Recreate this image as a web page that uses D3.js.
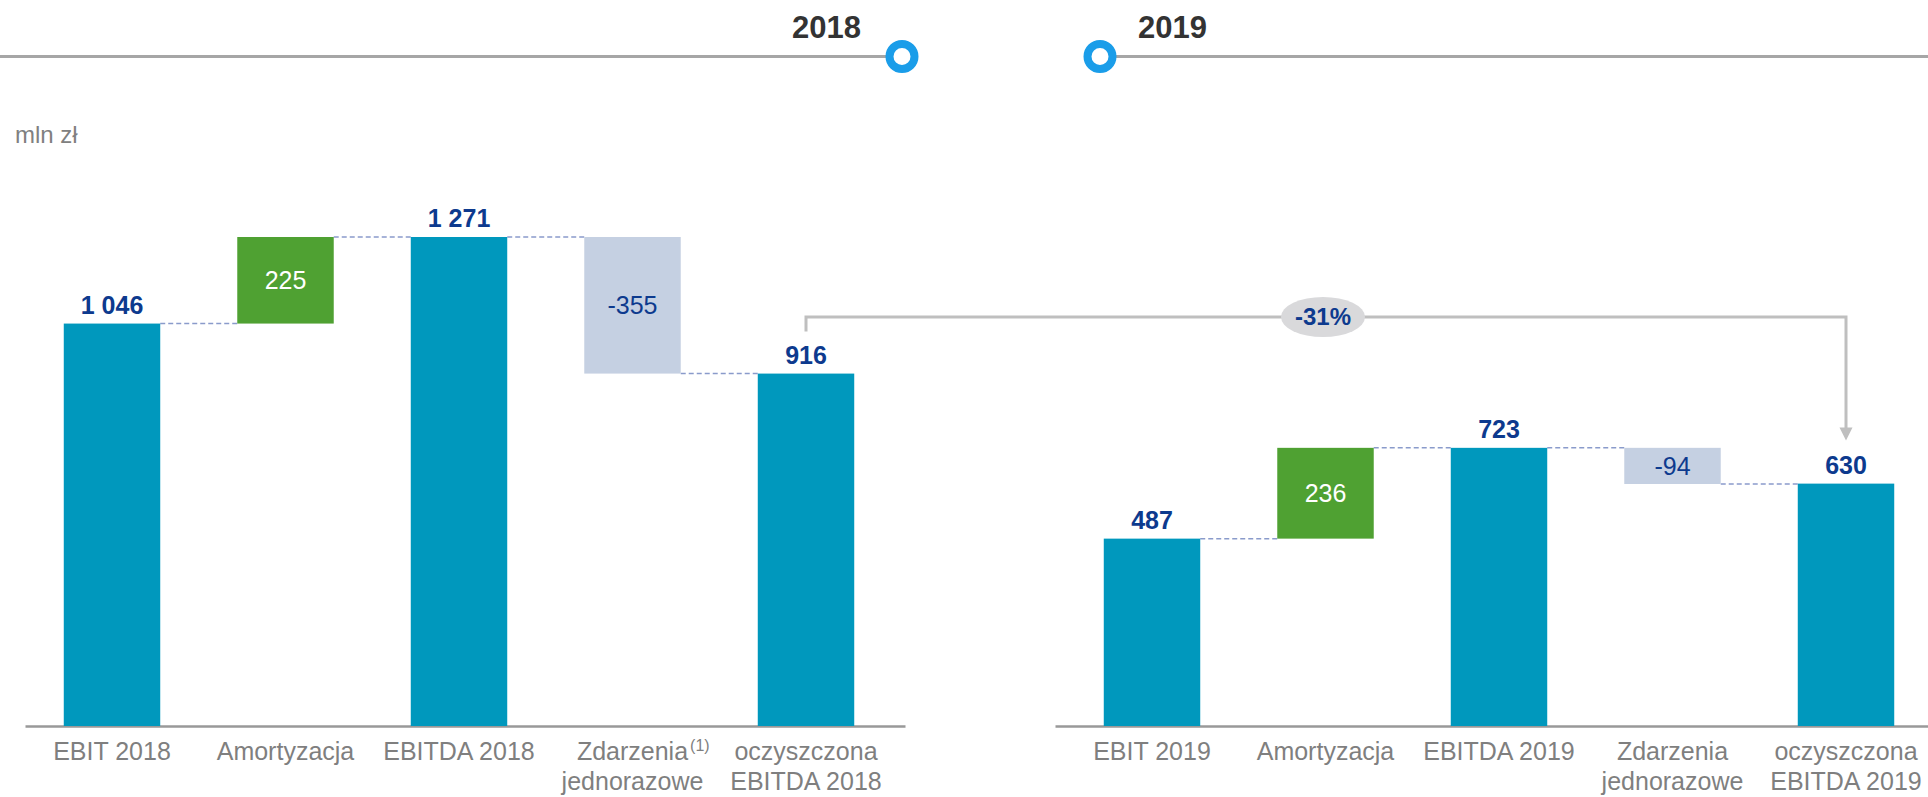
<!DOCTYPE html>
<html>
<head>
<meta charset="utf-8">
<script src="https://cdn.jsdelivr.net/npm/d3@7"></script>
<style>
  body { margin: 0; background: #ffffff; }
  svg { display: block; font-family: Arial, "Liberation Sans", sans-serif; }
</style>
</head>
<body>
<script>
'use strict';

// chart data (mln zł)
let years = ["2018", "2019"];
let steps = ["total", "delta", "total", "delta", "total"];
let values2018 = [1046, 225, 1271, -355, 916];
let values2019 = [487, 236, 723, -94, 630];
let labels2018 = [["EBIT 2018"], ["Amortyzacja"], ["EBITDA 2018"], ["Zdarzenia", "jednorazowe"], ["oczyszczona", "EBITDA 2018"]];
let labels2019 = [["EBIT 2019"], ["Amortyzacja"], ["EBITDA 2019"], ["Zdarzenia", "jednorazowe"], ["oczyszczona", "EBITDA 2019"]];
let footnotes2018 = ["", "", "", "(1)", ""];
let footnotes2019 = ["", "", "", "", ""];
let changeLabel = "-31%";
let unitLabel = "mln zł";

(function() {

  let width = 1928;
  let height = 797;
  let baseY = 726;
  let stepX = 173.5;

  let colors = {
    total: "#0098bd",
    up: "#4fa132",
    down: "#c5d0e2",
    value: "#0d3a8e",
    category: "#7f7f7f",
    timeline: "#a6a6a6",
    dot: "#1a9de9",
    bracket: "#bfbfbf",
    dash: "#8a9bcb"
  };

  // polish style numbers: "1 046", "-355"
  let fmt = d3.formatLocale({ decimal: ",", thousands: " ", grouping: [3], currency: ["", ""], minus: "-" }).format(",d");

  let svg = d3.select("body").append("svg")
    .attr("width", width)
    .attr("height", height);

  // one shared value scale for both panels
  let yScale = d3.scaleLinear()
    .domain([0, d3.max(values2018.concat(values2019))])
    .range([baseY, 237]);

  window.onload = function() {
    drawTimeline();

    svg.append("text")
      .attr("x", 15)
      .attr("y", 143)
      .style("font-size", "24px")
      .style("fill", "#808080")
      .text(unitLabel);

    let p1 = drawWaterfall(values2018, labels2018, footnotes2018, 112, [25, 905]);
    let p2 = drawWaterfall(values2019, labels2019, footnotes2019, 1152, [1055, 1940]);
    drawBracket(p1, p2);
  };

  // grey timeline with the two year markers
  function drawTimeline() {
    let lineY = 56.5;
    let dotX = d3.scalePoint().domain(years).range([902, 1100]);

    svg.append("line")
      .attr("x1", 0).attr("x2", dotX(years[0]))
      .attr("y1", lineY).attr("y2", lineY)
      .attr("stroke", colors.timeline)
      .attr("stroke-width", 3);

    svg.append("line")
      .attr("x1", dotX(years[1])).attr("x2", width)
      .attr("y1", lineY).attr("y2", lineY)
      .attr("stroke", colors.timeline)
      .attr("stroke-width", 3);

    svg.selectAll(".yearDot")
      .data(years)
      .enter()
      .append("circle")
      .attr("class", "yearDot")
      .attr("cx", (d) => dotX(d))
      .attr("cy", lineY)
      .attr("r", 12.5)
      .attr("fill", "#ffffff")
      .attr("stroke", colors.dot)
      .attr("stroke-width", 8);

    svg.selectAll(".yearText")
      .data(years)
      .enter()
      .append("text")
      .attr("class", "yearText")
      .attr("x", (d, i) => i == 0 ? dotX(d) - 41 : dotX(d) + 38)
      .attr("y", 38)
      .attr("text-anchor", (d, i) => i == 0 ? "end" : "start")
      .style("font-size", "31px")
      .style("font-weight", "bold")
      .style("fill", "#333333")
      .text((d) => d);
  }

  // one waterfall panel, returns scales for the bracket
  function drawWaterfall(values, labels, notes, firstCenter, axisRange) {
    let idx = d3.range(values.length);

    let xScale = d3.scaleBand()
      .domain(idx)
      .range([firstCenter - stepX / 2, firstCenter + (values.length - 0.5) * stepX])
      .paddingInner(0.444)
      .paddingOuter(0.222);
    let bw = xScale.bandwidth();

    // running totals for every step
    let running = 0;
    let bars = values.map((v, i) => {
      let from, to;
      if (steps[i] == "total") {
        from = 0; to = v; running = v;
      } else {
        from = running; to = running + v; running = to;
      }
      return { i: i, v: v, from: from, to: to, level: running, type: steps[i] };
    });

    let g = svg.append("g");

    // baseline axis, ticks hidden
    let axisScale = d3.scaleLinear().domain([0, 1]).range(axisRange);
    g.append("g")
      .attr("transform", "translate(0," + baseY + ")")
      .call(d3.axisBottom(axisScale).ticks(0).tickSize(0).tickSizeOuter(0))
      .select(".domain")
      .attr("stroke", "#999999")
      .attr("stroke-width", 2.5);

    // dashed connectors between neighbours
    g.selectAll(".link")
      .data(bars.slice(0, -1))
      .enter()
      .append("line")
      .attr("class", "link")
      .attr("x1", (d) => xScale(d.i) + bw)
      .attr("x2", (d) => xScale(d.i + 1))
      .attr("y1", (d) => yScale(d.level))
      .attr("y2", (d) => yScale(d.level))
      .attr("stroke", colors.dash)
      .attr("stroke-width", 1.5)
      .attr("stroke-dasharray", "5,3");

    g.selectAll(".bar")
      .data(bars)
      .enter()
      .append("rect")
      .attr("class", "bar")
      .attr("x", (d) => xScale(d.i))
      .attr("width", bw)
      .attr("y", (d) => yScale(Math.max(d.from, d.to)))
      .attr("height", (d) => Math.abs(yScale(d.from) - yScale(d.to)))
      .attr("fill", (d) => d.type == "total" ? colors.total : (d.v >= 0 ? colors.up : colors.down));

    // bold totals above the bars
    g.selectAll(".totalLabel")
      .data(bars.filter((d) => d.type == "total"))
      .enter()
      .append("text")
      .attr("class", "totalLabel")
      .attr("x", (d) => xScale(d.i) + bw / 2)
      .attr("y", (d) => yScale(d.to) - 10)
      .attr("text-anchor", "middle")
      .style("font-size", "25px")
      .style("font-weight", "bold")
      .style("fill", colors.value)
      .text((d) => fmt(d.v));

    // step values inside the floating bars
    g.selectAll(".deltaLabel")
      .data(bars.filter((d) => d.type == "delta"))
      .enter()
      .append("text")
      .attr("class", "deltaLabel")
      .attr("x", (d) => xScale(d.i) + bw / 2)
      .attr("y", (d) => (yScale(d.from) + yScale(d.to)) / 2)
      .attr("dy", "0.35em")
      .attr("text-anchor", "middle")
      .style("font-size", "25px")
      .style("fill", (d) => d.v >= 0 ? "#ffffff" : colors.value)
      .text((d) => fmt(d.v));

    // category names, up to two lines
    let cat = g.selectAll(".cat")
      .data(bars)
      .enter()
      .append("text")
      .attr("class", "cat")
      .attr("text-anchor", "middle")
      .style("font-size", "25px")
      .style("fill", colors.category);

    cat.each(function(d) {
      let t = d3.select(this);
      let cx = xScale(d.i) + bw / 2;
      labels[d.i].forEach((line, k) => {
        t.append("tspan")
          .attr("x", cx)
          .attr("y", baseY + 34 + k * 30)
          .text(line);
      });
    });

    // footnote marks after the first line
    g.selectAll(".note")
      .data(bars.filter((d) => notes[d.i] != ""))
      .enter()
      .append("text")
      .attr("class", "note")
      .attr("x", function(d) {
        let w = d3.select(cat.nodes()[d.i]).select("tspan").node().getComputedTextLength();
        return xScale(d.i) + bw / 2 + w / 2 + 2;
      })
      .attr("y", baseY + 25)
      .style("font-size", "16px")
      .style("fill", colors.category)
      .text((d) => notes[d.i]);

    return { x: xScale, bw: bw, bars: bars };
  }

  // grey bracket from last total of 2018 to last total of 2019
  function drawBracket(p1, p2) {
    let a = p1.bars[p1.bars.length - 1];
    let b = p2.bars[p2.bars.length - 1];
    let xa = p1.x(a.i) + p1.bw / 2;
    let xb = p2.x(b.i) + p2.bw / 2;
    let topY = 317;
    let startY = yScale(a.to) - 42;
    let tipY = yScale(b.to) - 43;

    svg.append("path")
      .attr("d", d3.line()([[xa, startY], [xa, topY], [xb, topY], [xb, tipY - 10]]))
      .attr("fill", "none")
      .attr("stroke", colors.bracket)
      .attr("stroke-width", 3);

    svg.append("path")
      .attr("d", d3.line()([[xb - 6.5, tipY - 13], [xb + 6.5, tipY - 13], [xb, tipY]]) + "Z")
      .attr("fill", colors.bracket);

    let mx = (xa + xb) / 2 - 3;
    svg.append("ellipse")
      .attr("cx", mx)
      .attr("cy", topY)
      .attr("rx", 42)
      .attr("ry", 20)
      .attr("fill", "#d9d9db");

    svg.append("text")
      .attr("x", mx)
      .attr("y", topY)
      .attr("dy", "0.35em")
      .attr("text-anchor", "middle")
      .style("font-size", "24px")
      .style("font-weight", "bold")
      .style("fill", colors.value)
      .text(changeLabel);
  }

})();
</script>
</body>
</html>
